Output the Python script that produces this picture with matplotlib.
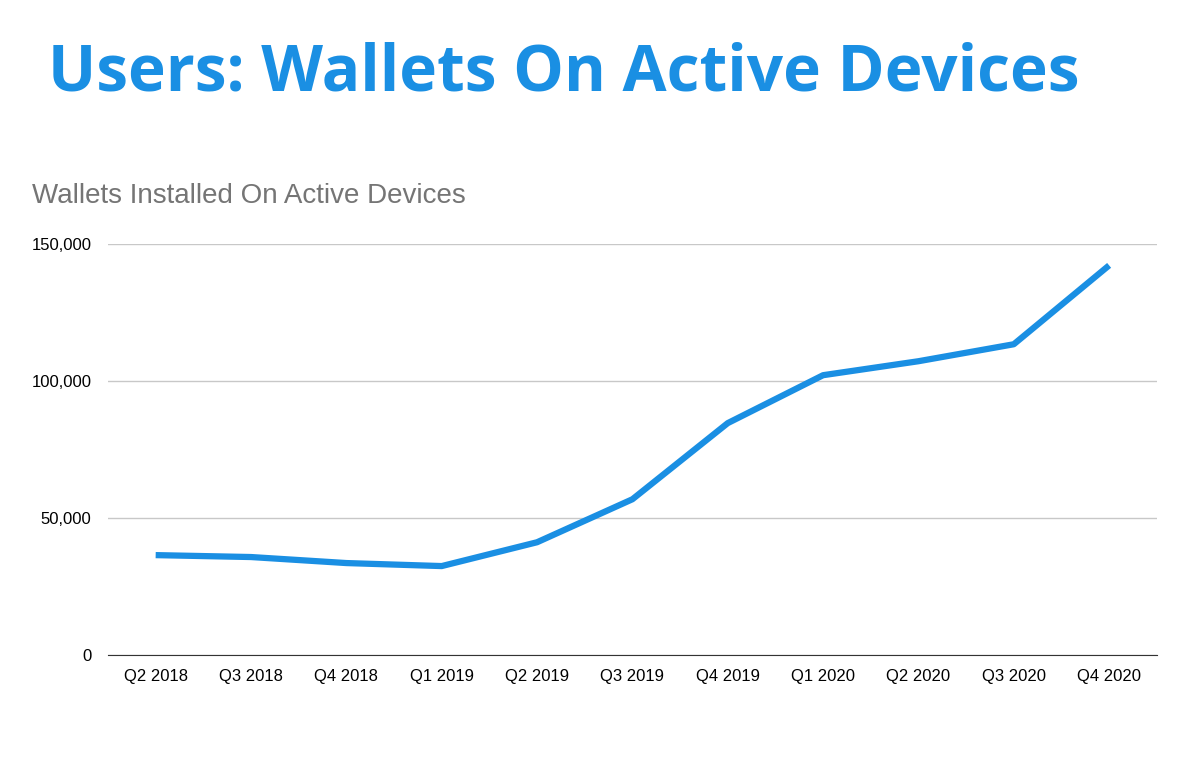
import matplotlib
matplotlib.use("Agg")
import matplotlib.pyplot as plt
from matplotlib.ticker import FuncFormatter

quarters = ["Q2 2018","Q3 2018","Q4 2018","Q1 2019","Q2 2019","Q3 2019","Q4 2019","Q1 2020","Q2 2020","Q3 2020","Q4 2020"]
wallets = [36500,35800,33600,32500,41200,56900,84700,102200,107300,113500,142300]
yticks = [0,50000,100000,150000]

plt.rcParams['font.family'] = ['Liberation Sans','DejaVu Sans']
fig = plt.figure(figsize=(12,7.78), dpi=100)
ax = fig.add_axes([0.09,0.158,0.874,0.528])
ax.plot(range(len(quarters)), wallets, color='#1a8fe3', lw=4.5, solid_capstyle='butt')
ax.set_xlim(-0.5, len(quarters)-0.5)
ax.set_ylim(0,150000)
ax.set_yticks(yticks)
ax.yaxis.set_major_formatter(FuncFormatter(lambda v,p: f"{int(v):,}"))
ax.set_xticks(range(len(quarters)))
ax.set_xticklabels(quarters)
ax.grid(axis='y', color='#c8c8c8', lw=1)
ax.set_axisbelow(True)
for s in ['top','right','left']:
    ax.spines[s].set_visible(False)
ax.spines['bottom'].set_color('#333333')
ax.tick_params(length=0, labelsize=12, pad=10)
ax.tick_params(axis='y', pad=12)
fig.text(0.04, 0.905, "Users: Wallets On Active Devices", fontsize=46, fontweight='bold',
         color='#1a8fe3', family=['Open Sans','DejaVu Sans'], va='center')
fig.text(0.027, 0.748, "Wallets Installed On Active Devices", fontsize=20, color='#757575', va='center')
fig.savefig("out.png", dpi=100, facecolor='white')
